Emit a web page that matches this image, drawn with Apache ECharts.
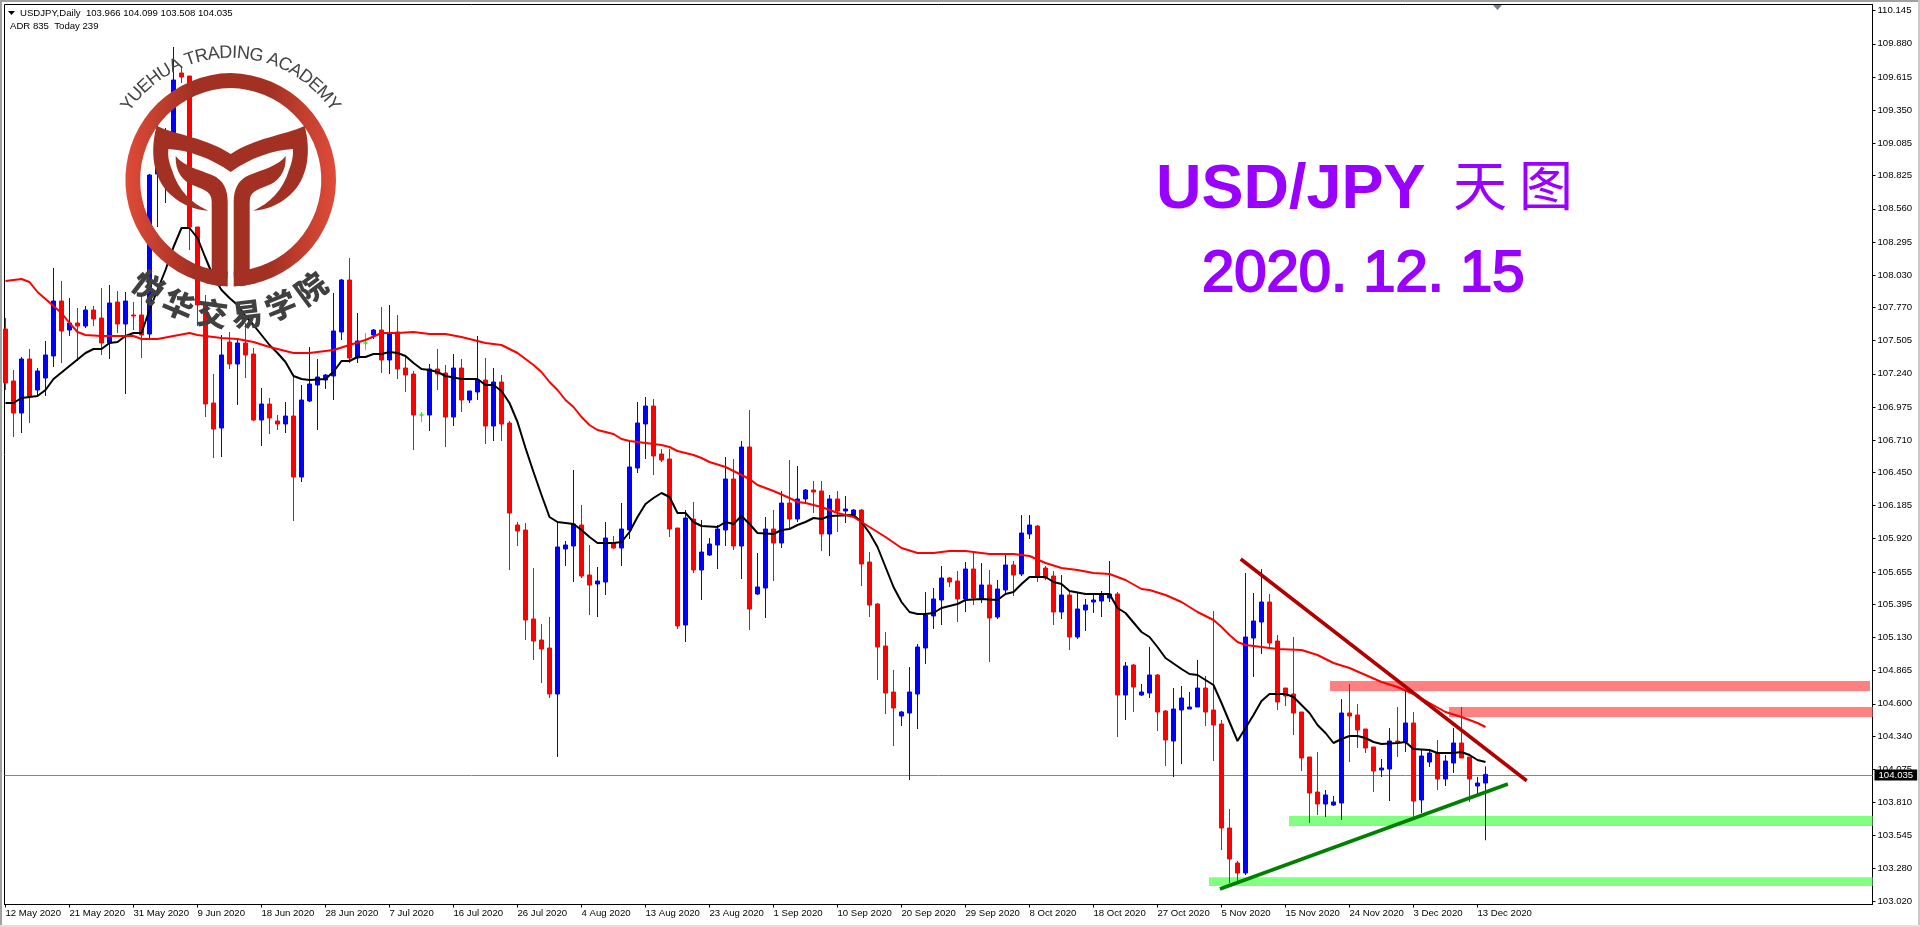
<!DOCTYPE html>
<html>
<head>
<meta charset="utf-8">
<title>USD/JPY</title>
<style>
  html, body { margin: 0; padding: 0; background: #fff; }
  #chart { width: 1920px; height: 927px; }
</style>
<script src="https://cdn.jsdelivr.net/npm/echarts@6/dist/echarts.min.js"></script>
</head>
<body>
<div id="chart"></div>
<script>
// open, close, low, high per daily bar
var ohlc = [
  [107.598,107.166,107.11,107.686],[107.182,106.926,106.734,107.27],[106.926,107.358,106.766,107.374],[107.358,107.062,106.846,107.438],
  [107.11,107.262,107.07,107.286],[107.206,107.39,107.062,107.502],[107.382,107.822,107.294,108.086],[107.822,107.582,107.326,107.982],
  [107.59,107.646,107.542,107.846],[107.646,107.622,107.342,107.766],[107.622,107.75,107.606,107.782],[107.75,107.678,107.622,107.782],
  [107.686,107.486,107.39,107.926],[107.486,107.806,107.358,107.95],[107.814,107.638,107.566,107.902],[107.638,107.822,107.078,107.894],
  [107.71,107.702,107.59,107.814],[107.71,107.55,107.366,107.87],[107.558,108.83,107.526,108.838],[108.838,109.174,108.414,109.27],
  [108.854,109.15,108.606,109.206],[109.158,109.59,109.126,109.854],[109.646,109.614,109.566,109.694],[109.622,108.414,108.23,109.622],
  [108.414,107.79,107.622,108.414],[107.79,106.998,106.894,107.87],[107.006,106.798,106.566,107.238],[106.806,107.39,106.574,107.55],
  [107.494,107.318,107.278,107.574],[107.318,107.486,106.99,107.51],[107.486,107.39,107.206,107.646],[107.398,106.87,106.862,107.446],
  [106.87,106.998,106.662,107.126],[106.998,106.886,106.758,107.046],[106.862,106.838,106.79,106.91],[106.838,106.902,106.766,107.014],
  [106.902,106.414,106.062,107.23],[106.414,107.03,106.374,107.15],[107.022,107.158,107.014,107.454],[107.15,107.214,106.79,107.358],
  [107.19,107.23,107.118,107.238],[107.222,107.582,107.03,107.886],[107.574,107.99,107.51,107.998],[107.99,107.366,107.326,108.166],
  [107.366,107.502,107.326,107.726],[107.486,107.486,107.43,107.566],[107.55,107.59,107.518,107.598],[107.59,107.35,107.246,107.774],
  [107.35,107.558,107.238,107.79],[107.574,107.278,107.198,107.71],[107.286,107.23,107.094,107.39],[107.238,106.91,106.63,107.262],
  [106.91,106.91,106.854,106.934],[106.91,107.278,106.782,107.318],[107.278,107.238,107.11,107.438],[107.246,106.894,106.654,107.31],
  [106.894,107.286,106.822,107.398],[107.286,107.03,106.934,107.358],[107.03,107.102,107.006,107.102],[107.094,107.19,107.03,107.542],
  [107.19,106.822,106.678,107.366],[106.822,107.174,106.702,107.286],[107.174,106.838,106.702,107.23],[106.846,106.126,105.67,106.862],
  [106.03,105.982,105.862,106.054],[105.99,105.27,105.11,106.046],[105.278,105.102,104.95,105.686],[105.11,105.038,104.766,105.238],
  [105.046,104.678,104.646,105.294],[104.678,105.854,104.174,106.054],[105.838,105.87,105.702,105.902],[105.862,106.038,105.574,106.47],
  [106.03,105.622,105.606,106.19],[105.63,105.55,105.31,105.87],[105.558,105.582,105.294,105.694],[105.574,105.926,105.47,106.054],
  [105.886,105.846,105.838,105.942],[105.846,105.998,105.702,106.206],[105.99,106.494,105.918,106.694],[106.486,106.846,106.446,107.014],
  [106.838,106.982,106.558,107.054],[106.982,106.582,106.43,107.038],[106.598,106.55,106.534,106.638],[106.558,105.998,105.934,106.638],
  [106.006,105.222,105.198,106.006],[105.23,106.086,105.094,106.15],[106.078,105.67,105.646,106.214],[105.67,105.814,105.43,106.07],
  [105.79,105.878,105.782,105.926],[105.87,105.998,105.678,106.03],[105.99,106.398,105.862,106.574],[106.398,105.862,105.83,106.558],
  [105.862,106.654,105.598,106.702],[106.654,105.358,105.19,106.95],[105.478,105.534,105.47,105.806],[105.526,105.998,105.286,106.094],
  [105.998,105.886,105.582,106.15],[105.886,106.206,105.846,106.302],[106.206,106.078,105.998,106.55],[106.078,106.238,106.054,106.502],
  [106.238,106.31,106.198,106.318],[106.31,106.294,106.126,106.382],[106.302,105.958,105.822,106.382],[105.958,106.238,105.782,106.27],
  [106.238,106.142,105.974,106.302],[106.142,106.158,106.046,106.262],[106.11,106.15,106.102,106.158],[106.15,105.718,105.542,106.158],
  [105.734,105.39,105.294,105.814],[105.398,105.054,104.79,105.406],[105.062,104.686,104.518,105.174],[104.694,104.566,104.262,104.87],
  [104.502,104.534,104.422,104.542],[104.526,104.694,103.99,104.894],[104.678,105.054,104.398,105.078],[105.046,105.31,104.918,105.494],
  [105.302,105.438,105.198,105.526],[105.43,105.606,105.23,105.702],[105.606,105.574,105.534,105.614],[105.582,105.438,105.254,105.662],
  [105.438,105.678,105.334,105.734],[105.678,105.446,105.39,105.806],[105.438,105.55,105.406,105.726],[105.55,105.286,104.934,105.67],
  [105.294,105.518,105.278,105.59],[105.51,105.71,105.478,105.79],[105.71,105.63,105.462,105.742],[105.638,105.966,105.622,106.11],
  [105.958,106.03,105.918,106.11],[106.022,105.614,105.574,106.03],[105.686,105.606,105.59,105.702],[105.622,105.334,105.23,105.662],
  [105.334,105.47,105.278,105.63],[105.47,105.134,105.03,105.494],[105.134,105.358,105.118,105.486],[105.35,105.39,105.182,105.438],
  [105.414,105.43,105.326,105.486],[105.422,105.478,105.294,105.502],[105.446,105.478,105.414,105.742],[105.478,104.67,104.334,105.494],
  [104.67,104.902,104.47,104.934],[104.91,104.734,104.534,104.918],[104.67,104.694,104.662,104.758],[104.686,104.83,104.646,105.054],
  [104.83,104.534,104.382,104.838],[104.542,104.31,104.102,104.55],[104.302,104.558,104.014,104.726],[104.55,104.646,104.118,104.742],
  [104.558,104.574,104.558,104.694],[104.574,104.726,104.574,104.95],[104.726,104.534,104.422,104.822],[104.55,104.43,104.142,105.342],
  [104.438,103.606,103.43,104.47],[103.606,103.358,103.166,103.758],[103.326,103.246,103.182,103.342],[103.246,105.134,103.23,105.646],
  [105.126,105.262,104.814,105.486],[105.254,105.414,104.998,105.678],[105.414,105.086,105.046,105.478],[105.102,104.614,104.55,105.15],
  [104.726,104.662,104.582,104.726],[104.678,104.526,104.35,105.134],[104.534,104.166,104.062,104.534],[104.174,103.886,103.646,104.174],
  [103.894,103.798,103.71,104.214],[103.798,103.87,103.694,103.91],[103.79,103.814,103.782,103.862],[103.806,104.526,103.67,104.638],
  [104.526,104.502,104.134,104.758],[104.51,104.39,104.246,104.598],[104.398,104.246,104.206,104.398],[104.254,104.062,103.894,104.254],
  [104.07,104.086,104.014,104.158],[104.078,104.302,103.822,104.406],[104.302,104.294,104.174,104.574],[104.294,104.446,104.214,104.71],
  [104.446,103.822,103.686,104.534],[103.83,104.182,103.726,104.23],[104.134,104.206,104.094,104.23],[104.206,103.998,103.91,104.31],
  [103.998,104.142,103.942,104.19],[104.126,104.286,104.046,104.406],[104.286,104.166,104.166,104.574],[104.174,103.998,103.814,104.174],
  [103.942,103.966,103.862,104.014],[103.966,104.035,103.508,104.099]
];

// moving averages as [bar, price]
var slowMa = [
  [0,107.982],[1,107.99],[2,107.998],[3,107.974],[4,107.894],[5,107.838],[6,107.782],[7,107.726],[8,107.646],[9,107.574],[10,107.55],[12,107.542],
  [16,107.542],[17,107.518],[19,107.518],[21,107.542],[23,107.566],[24,107.55],[27,107.526],[29,107.518],[31,107.494],[33,107.454],[36,107.406],
  [38,107.406],[41,107.43],[43,107.47],[45,107.51],[47,107.566],[49,107.566],[51,107.574],[53,107.558],[55,107.558],[57,107.534],[60,107.486],
  [62,107.47],[64,107.406],[66,107.31],[67,107.254],[68,107.174],[69,107.11],[70,107.03],[71,106.974],[72,106.894],[73,106.83],[74,106.79],
  [76,106.758],[77,106.718],[78,106.702],[80,106.686],[82,106.67],[83,106.654],[84,106.622],[86,106.59],[87,106.566],[88,106.534],[90,106.494],
  [91,106.462],[93,106.398],[94,106.35],[96,106.302],[98,106.246],[99,106.214],[100,106.206],[102,106.174],[104,106.126],[106,106.094],[108,106.014],
  [110,105.934],[112,105.846],[114,105.806],[116,105.806],[118,105.822],[120,105.822],[123,105.798],[126,105.798],[128,105.782],[130,105.726],
  [132,105.686],[134,105.67],[136,105.646],[138,105.638],[140,105.59],[142,105.518],[143,105.51],[145,105.47],[147,105.414],[149,105.334],[150,105.302],
  [151,105.27],[152,105.214],[153,105.15],[154,105.094],[155,105.07],[157,105.054],[159,105.038],[162,105.03],[164,104.99],[166,104.926],[168,104.886],
  [170,104.83],[172,104.774],[174,104.734],[176,104.678],[178,104.606],[180,104.534],[182,104.494],[184,104.446],[185,104.414]
];
var fastMa = [
  [0,107.006],[1,107.006],[2,107.046],[4,107.062],[5,107.11],[6,107.198],[8,107.302],[10,107.406],[11,107.438],[12,107.438],[13,107.486],[14,107.494],
  [15,107.542],[16,107.566],[17,107.566],[18,107.75],[19,107.91],[20,108.07],[21,108.254],[22,108.406],[23,108.406],[24,108.326],[25,108.166],[26,108.014],
  [27,107.91],[28,107.846],[29,107.79],[30,107.702],[31,107.63],[32,107.55],[33,107.47],[34,107.406],[35,107.334],[36,107.222],[37,107.198],[38,107.19],
  [40,107.198],[41,107.256],[42,107.342],[43,107.342],[44,107.374],[45,107.374],[46,107.398],[47,107.398],[48,107.414],[49,107.406],[50,107.382],
  [51,107.326],[52,107.278],[53,107.27],[54,107.254],[55,107.222],[57,107.198],[59,107.198],[60,107.15],[61,107.15],[62,107.102],[63,107.006],[64,106.854],
  [65,106.646],[66,106.454],[67,106.27],[68,106.094],[69,106.054],[70,106.046],[71,106.038],[72,105.99],[73,105.934],[74,105.886],[76,105.886],[77,105.894],
  [78,105.974],[79,106.094],[80,106.198],[81,106.246],[82,106.286],[83,106.254],[84,106.126],[85,106.126],[86,106.054],[87,106.022],[89,106.014],[90,106.054],
  [91,106.038],[92,106.102],[93,106.038],[94,105.966],[96,105.958],[97,105.99],[98,105.998],[99,106.03],[100,106.054],[101,106.086],[102,106.078],[103,106.102],
  [106,106.11],[107,106.054],[108,105.966],[109,105.854],[110,105.694],[111,105.534],[112,105.414],[113,105.334],[114,105.318],[115,105.318],[116,105.326],
  [117,105.366],[118,105.382],[119,105.398],[120,105.43],[122,105.438],[124,105.43],[125,105.478],[126,105.494],[127,105.558],[128,105.614],[130,105.614],
  [131,105.574],[132,105.558],[133,105.502],[135,105.478],[138,105.478],[139,105.366],[140,105.326],[142,105.174],[143,105.134],[144,105.054],[145,104.966],
  [147,104.878],[148,104.838],[149,104.83],[150,104.79],[151,104.75],[152,104.606],[153,104.454],[154,104.302],[155,104.406],[156,104.51],[157,104.622],
  [158,104.678],[160,104.678],[161,104.654],[162,104.59],[163,104.526],[164,104.43],[165,104.366],[166,104.286],[167,104.318],[168,104.342],[169,104.342],
  [170,104.326],[171,104.294],[172,104.278],[174,104.286],[175,104.294],[176,104.238],[178,104.23],[179,104.206],[181,104.206],[182,104.214],[183,104.19],
  [184,104.15],[185,104.134]
];

// hand drawn objects on the chart, [bar, price]
var downTrend = [[154.4,105.758],[190.15,103.984]];
var upTrend = [[151.8,103.118],[187.8,103.958]];

// support / resistance zones: from bar, to bar, upper price, lower price
var resistanceZones = [[165.56,233.06,104.782,104.702],[180.44,233.375,104.574,104.494]];
var supportZones = [[160.44,233.375,103.702,103.622],[150.44,233.375,103.212,103.142]];

var lastClose = 104.035;
var priceTicks = [110.145,109.88,109.615,109.35,109.085,108.825,108.56,108.295,108.03,107.77,107.505,107.24,106.975,106.71,106.45,106.185,105.92,105.655,105.395,105.13,104.865,104.6,104.34,104.075,103.81,103.545,103.28,103.02];
var dateTicks = ["12 May 2020","21 May 2020","31 May 2020","9 Jun 2020","18 Jun 2020","28 Jun 2020","7 Jul 2020","16 Jul 2020","26 Jul 2020","4 Aug 2020","13 Aug 2020","23 Aug 2020","1 Sep 2020","10 Sep 2020","20 Sep 2020","29 Sep 2020","8 Oct 2020","18 Oct 2020","27 Oct 2020","5 Nov 2020","15 Nov 2020","24 Nov 2020","3 Dec 2020","13 Dec 2020"];
var barsPerDateTick = 8;

var smallFont = "Liberation Sans";
var smallSize = 9.6;
var myChart = echarts.init(document.getElementById("chart"));

function zoneData(zones, color) {
  return zones.map(function(z) {
    return [
      { xAxis: z[0], yAxis: z[2], itemStyle: { color: color } },
      { xAxis: z[1], yAxis: z[3] }
    ];
  });
}

// logo, drawn on top of the candles
var logoX = 230.7, logoY = 179.8;
echarts.graphic.registerShape("logoRing", echarts.graphic.extendPath(
  "M227.7,286.4 A106.7,106.7 0 0 1 230.7,73.1 A106.7,106.7 0 0 1 233.7,286.4 L233.7,271.4 A91.7,91.7 0 0 0 230.7,88.1 A91.7,91.7 0 0 0 227.7,271.4 Z", {}));
echarts.graphic.registerShape("logoWings", echarts.graphic.extendPath(
  "M156.7,126 C176.7,135 206.7,138 230.7,154 C254.7,138 284.7,135 304.7,126 C311,150 309,178 290,195 C278,206 265,210 253.3,210.7 C270,203 283,190 289,170 C293,160 293,155 293,149 C273,150 250,158 230.7,172 C211,158 188,150 168.3,149 C168,155 168,160 172,170 C178,190 191,203 208.3,210.7 C196,210 183,206 171,195 C152,178 150,150 156.7,126 Z", {}));
echarts.graphic.registerShape("logoStemLeft", echarts.graphic.extendPath(
  "M175.7,156 C183,166 200,170 212,175 C224,180 227.7,190 227.7,202 L227.7,274 C227.7,283 224,287 218,286 L205,283 L211.7,270 L211.7,202 C211.7,192 205,190 195,186 C183,182 175,172 175.7,156 Z", {}));
echarts.graphic.registerShape("logoStemRight", echarts.graphic.extendPath(
  "M285.7,156 C278.4,166 261.4,170 249.4,175 C237.4,180 233.7,190 233.7,202 L233.7,274 C233.7,283 237.4,287 243.4,286 L256.4,283 L249.7,270 L249.7,202 C249.7,192 256.4,190 266.4,186 C278.4,182 286.4,172 285.7,156 Z", {}));

var ringFill = new echarts.graphic.LinearGradient(0, 0, 1, 0, [
  { offset: 0, color: "#e04b38" },
  { offset: 0.32, color: "#a23124" },
  { offset: 0.68, color: "#a23124" },
  { offset: 1, color: "#e04b38" }
]);
var logoFill = "#a23124";
var logo = [
  { type: "logoRing", z: 100, silent: true, style: { fill: ringFill } },
  { type: "logoWings", z: 100, silent: true, style: { fill: logoFill } },
  { type: "logoStemLeft", z: 100, silent: true, style: { fill: logoFill } },
  { type: "logoStemRight", z: 100, silent: true, style: { fill: logoFill } }
];

// curved academy name above the ring
(function() {
  var name = "YUEHUA TRADING ACADEMY";
  var font = "18px 'Liberation Sans'";
  var ctx = document.createElement("canvas").getContext("2d");
  ctx.font = font;
  var total = ctx.measureText(name).width;
  var used = 0;
  name.split("").forEach(function(ch) {
    var w = ctx.measureText(ch).width;
    var a = (used + w / 2 - total / 2) / 130;
    used += w;
    if (ch === " ") return;
    logo.push({
      type: "text", z: 101, silent: true,
      x: logoX + 127 * Math.sin(a), y: logoY - 127 * Math.cos(a), rotation: -a,
      style: { text: ch, font: font, fill: "#444", align: "center", verticalAlign: "middle", textAlign: "center", textVerticalAlign: "middle" }
    });
  });
  "悦华交易学院".split("").forEach(function(ch, i) {
    var a = (-37.5 + 14.8 * i) * Math.PI / 180;
    logo.push({
      type: "text", z: 101, silent: true,
      x: logoX + 135 * Math.sin(a), y: logoY + 135 * Math.cos(a), rotation: a,
      style: { text: ch, font: "900 31px 'Noto Sans CJK SC'", fill: "#404040", align: "center", verticalAlign: "middle", textAlign: "center", textVerticalAlign: "middle" }
    });
  });
})();

// y is the top of the text box here
function label(text, x, y, font, fill, strokeWidth) {
  var style = { text: text, font: font, fill: fill, align: "left", verticalAlign: "top", textAlign: "left", textVerticalAlign: "top" };
  if (strokeWidth) {
    style.stroke = fill;
    style.lineWidth = strokeWidth;
  }
  return { type: "text", z: 90, silent: true, x: x, y: y, style: style };
}

var titleColor = "#9900ff";
var decorations = [
  { type: "rect", z: 95, silent: true, shape: { x: 0, y: 0, width: 1920, height: 2 }, style: { fill: "#a0a0a0" } },
  { type: "rect", z: 95, silent: true, shape: { x: 0, y: 0, width: 2, height: 927 }, style: { fill: "#a0a0a0" } },
  { type: "rect", z: 95, silent: true, shape: { x: 1918, y: 0, width: 2, height: 927 }, style: { fill: "#c8c8c8" } },
  { type: "rect", z: 95, silent: true, shape: { x: 0, y: 925, width: 1920, height: 2 }, style: { fill: "#e0e0e0" } },
  { type: "polygon", z: 95, silent: true, shape: { points: [[1493, 5], [1502, 5], [1497.5, 10]] }, style: { fill: "#708090" } },
  { type: "polygon", z: 95, silent: true, shape: { points: [[8, 11], [15, 11], [11.5, 15]] }, style: { fill: "#000" } },
  label("USDJPY,Daily  103.966 104.099 103.508 104.035", 20, 8, smallSize + "px '" + smallFont + "'", "#000"),
  label("ADR 835  Today 239", 10, 21, smallSize + "px '" + smallFont + "'", "#000"),
  label("USD/JPY", 1156, 159, "bold 63px 'Liberation Sans'", titleColor),
  label("天", 1453, 158, "54px 'Noto Sans CJK SC'", titleColor),
  label("图", 1519, 158, "54px 'Noto Sans CJK SC'", titleColor),
  label("2020. 12. 15", 1202, 246, "58px 'Liberation Sans'", titleColor, 2)
];

var option = {
  animation: false,
  backgroundColor: "#fff",
  grid: { left: 4.5, top: 4.5, width: 1868, height: 900, show: true, borderColor: "#000", borderWidth: 1, containLabel: false },
  xAxis: {
    type: "value",
    min: -0.125,
    max: 233.375,
    splitLine: { show: false },
    axisLine: { onZero: false, lineStyle: { color: "#000", width: 1 } },
    axisTick: { length: 3, lineStyle: { color: "#000" }, customValues: dateTicks.map(function(d, i) { return i * barsPerDateTick; }) },
    axisLabel: {
      customValues: dateTicks.map(function(d, i) { return i * barsPerDateTick; }),
      formatter: function(v) { return dateTicks[Math.round(v / barsPerDateTick)]; },
      align: "left",
      margin: 4,
      color: "#000",
      fontFamily: smallFont,
      fontSize: smallSize
    }
  },
  yAxis: {
    type: "value",
    position: "right",
    min: 102.994,
    max: 110.194,
    splitLine: { show: false },
    axisLine: { show: true, onZero: false, lineStyle: { color: "#000", width: 1 } },
    axisTick: { show: true, length: 3, lineStyle: { color: "#000" }, customValues: priceTicks },
    axisLabel: {
      customValues: priceTicks,
      formatter: function(v) { return v.toFixed(3); },
      margin: 5,
      color: "#000",
      fontFamily: smallFont,
      fontSize: smallSize
    }
  },
  series: [
    {
      name: "USDJPY",
      type: "candlestick",
      barWidth: 5,
      encode: { x: 0, y: [1, 2, 3, 4] },
      data: ohlc.map(function(r, i) { return [i, r[0], r[1], r[2], r[3]]; }),
      itemStyle: {
        color: "#0000ff",
        color0: "#ff0000",
        borderColor: "#0000ff",
        borderColor0: "#ff0000",
        borderColorDoji: "#00ff00",
        borderWidth: 1
      },
      silent: true,
      markLine: {
        silent: true,
        z: 1,
        symbol: ["none", "none"],
        lineStyle: { color: "#778899", width: 1, type: "solid" },
        label: {
          position: "end",
          formatter: lastClose.toFixed(3),
          color: "#fff",
          backgroundColor: "#000",
          padding: [1, 4, 0, 4],
          distance: 2,
          fontFamily: smallFont,
          fontSize: smallSize
        },
        data: [{ yAxis: lastClose }]
      },
      markArea: {
        silent: true,
        z: 1,
        data: zoneData(resistanceZones, "#ff8080").concat(zoneData(supportZones, "#80ff80"))
      }
    },
    { name: "MA fast", type: "line", data: fastMa, showSymbol: false, silent: true, lineStyle: { color: "#000", width: 2 }, z: 4 },
    { name: "MA slow", type: "line", data: slowMa, showSymbol: false, silent: true, lineStyle: { color: "#ff0000", width: 2 }, z: 4 },
    { name: "Down trend", type: "line", data: downTrend, showSymbol: false, silent: true, lineStyle: { color: "#b00000", width: 3.5 }, z: 5 },
    { name: "Up trend", type: "line", data: upTrend, showSymbol: false, silent: true, lineStyle: { color: "#008000", width: 3.5 }, z: 5 }
  ],
  graphic: { elements: decorations.concat(logo) }
};

myChart.setOption(option);
window.addEventListener("resize", function() {
  myChart.resize();
});
</script>
</body>
</html>
